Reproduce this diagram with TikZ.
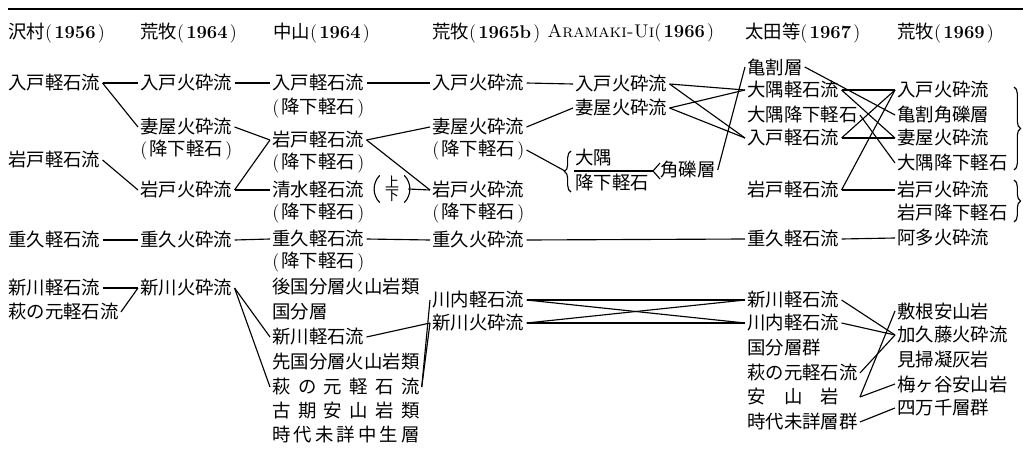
\documentclass[tikz,border=0pt]{standalone}
\usepackage{fontspec}
\newfontfamily\cjk{Noto Sans CJK JP}
\usetikzlibrary{decorations.pathreplacing}
\newcommand\lpar{\makebox[0.5em][l]{\rmfamily(}}
\newcommand\rpar{\makebox[0.5em][r]{\rmfamily)}}
\newcommand\yr[1]{\lpar{\rmfamily\bfseries #1}\rpar}
\newcommand\kouka{\lpar 降下軽石\rpar}
\tikzset{
  lbl/.style={anchor=west, inner xsep=1.5pt, inner ysep=0pt, font=\cjk\fontsize{13.8}{16}\selectfont},
  minilbl/.style={inner sep=0pt, font=\cjk\fontsize{10.5}{11}\selectfont},
  con/.style={line width=0.85pt},
  brc/.style={decorate, decoration={brace, amplitude=5pt}, line width=0.85pt},
}
\begin{document}
\begin{tikzpicture}[x=0.75pt,y=-0.75pt]
\useasboundingbox (0,0) rectangle (1023,453);
\draw[line width=1.5pt] (8,9) -- (1023,9);
% headers
\node[lbl] (h1) at (6,33) {沢村\yr{1956}};
\node[lbl] (h2) at (138,33) {荒牧\yr{1964}};
\node[lbl] (h3) at (271,33) {中山\yr{1964}};
\node[lbl] (h4) at (430,33) {荒牧\yr{1965b}};
\node[lbl] (h5) at (545,33) {{\rmfamily\textsc{Aramaki-Ui}}\yr{1966}};
\node[lbl] (h6) at (743,33) {太田等\yr{1967}};
\node[lbl] (h7) at (895,33) {荒牧\yr{1969}};
% column 1
\node[lbl] (a1) at (6,83) {入戸軽石流};
\node[lbl] (a2) at (6,160) {岩戸軽石流};
\node[lbl] (a3) at (6,240) {重久軽石流};
\node[lbl] (a4) at (6,288) {新川軽石流};
\node[lbl] (a5) at (6,312) {萩の元軽石流};
% column 2
\node[lbl] (b1) at (138,83) {入戸火砕流};
\node[lbl] (b2) at (138,127) {妻屋火砕流};
\node[lbl] (b2p) at (138,150) {\kouka};
\node[lbl] (b3) at (138,190) {岩戸火砕流};
\node[lbl] (b4) at (138,240) {重久火砕流};
\node[lbl] (b5) at (138,288) {新川火砕流};
% column 3
\node[lbl] (c1) at (270,83) {入戸軽石流};
\node[lbl] (c1p) at (270,108) {\kouka};
\node[lbl] (c2) at (270,140) {岩戸軽石流};
\node[lbl] (c2p) at (270,163) {\kouka};
\node[lbl] (c3) at (270,190) {清水軽石流};
\node[lbl] (c3p) at (270,213) {\kouka};
\node[lbl] (c4) at (270,239) {重久軽石流};
\node[lbl] (c4p) at (270,262) {\kouka};
\node[lbl] (c5) at (270,287) {後国分層火山岩類};
\node[lbl] (c6) at (270,312) {国分層};
\node[lbl] (c7) at (270,337) {新川軽石流};
\node[lbl] (c8) at (270,362) {先国分層火山岩類};
\node[lbl] (c9) at (270,387) {\makebox[8em]{萩\hfill の\hfill 元\hfill 軽\hfill 石\hfill 流}};
\node[lbl] (c10) at (270,411) {\makebox[8em]{古\hfill 期\hfill 安\hfill 山\hfill 岩\hfill 類}};
\node[lbl] (c11) at (270,435) {\makebox[8em]{時\hfill 代\hfill 未\hfill 詳\hfill 中\hfill 生\hfill 層}};
% (上下) mark
\node[minilbl] (udu) at (392,182) {上};
\node[minilbl] (udl) at (392,196) {下};
\node[inner sep=0pt, minimum width=18pt, minimum height=20pt] (ud) at (392,189) {};
% column 4
\node[lbl] (d1) at (430,83) {入戸火砕流};
\node[lbl] (d2) at (430,127) {妻屋火砕流};
\node[lbl] (d2p) at (430,150) {\kouka};
\node[lbl] (d3) at (430,190) {岩戸火砕流};
\node[lbl] (d3p) at (430,213) {\kouka};
\node[lbl] (d4) at (430,240) {重久火砕流};
\node[lbl] (d5) at (430,300) {川内軽石流};
\node[lbl] (d6) at (430,323) {新川火砕流};
% column 5
\node[lbl] (e1) at (573,84) {入戸火砕流};
\node[lbl] (e2) at (573,108) {妻屋火砕流};
\node[lbl] (e3) at (573,158) {大隅};
\node[lbl] (e4) at (573,183) {降下軽石};
\node[lbl] (e5) at (658,170) {角礫層};
\coordinate (bt) at (571,151);
\coordinate (bb) at (571,192);
\coordinate (btip) at (565,171);
\coordinate (bm) at (574,171);
\coordinate (kv) at (653,171);
% column 6
\node[lbl] (f1) at (745,67) {亀割層};
\node[lbl] (f2) at (745,90) {大隅軽石流};
\node[lbl] (f3) at (745,115) {大隅降下軽石};
\node[lbl] (f4) at (745,138) {入戸軽石流};
\node[lbl] (f5) at (745,190) {岩戸軽石流};
\node[lbl] (f6) at (745,239) {重久軽石流};
\node[lbl] (f7) at (745,300) {新川軽石流};
\node[lbl] (f8) at (745,323) {川内軽石流};
\node[lbl] (f9) at (745,348) {国分層群};
\node[lbl] (f10) at (745,373) {萩の元軽石流};
\node[lbl] (f11) at (745,397) {\makebox[6em][l]{\makebox[5em]{安\hfill 山\hfill 岩}}};
\node[lbl] (f12) at (745,422) {時代未詳層群};
% column 7
\node[lbl] (g1) at (895,90) {入戸火砕流};
\node[lbl] (g2) at (895,115) {亀割角礫層};
\node[lbl] (g3) at (895,138) {妻屋火砕流};
\node[lbl] (g4) at (895,163) {大隅降下軽石};
\node[lbl] (g5) at (895,190) {岩戸火砕流};
\node[lbl] (g6) at (895,213) {岩戸降下軽石};
\node[lbl] (g7) at (895,238) {阿多火砕流};
\node[lbl] (g8) at (895,311) {敷根安山岩};
\node[lbl] (g9) at (895,335) {加久藤火砕流};
\node[lbl] (g10) at (895,360) {見掃凝灰岩};
\node[lbl] (g11) at (895,384) {梅ヶ谷安山岩};
\node[lbl] (g12) at (895,408) {四万千層群};
% connectors col1-col2
\draw[con] (a1.east) -- (b1.west);
\draw[con] (a1.east) -- (b2.west);
\draw[con] (a2.east) -- (b3.west);
\draw[con] (a3.east) -- (b4.west);
\draw[con] (a4.east) -- (b5.west);
\draw[con] (a5.east) -- (b5.west);
% col2-col3
\draw[con] (b1.east) -- (c1.west);
\draw[con] (b2.east) -- (c2.west);
\draw[con] (b3.east) -- (c2.west);
\draw[con] (b3.east) -- (c3.west);
\draw[con] (b4.east) -- (c4.west);
\draw[con] (b5.east) -- (c7.west);
\draw[con] (b5.east) -- (c9.west);
% col3-col4
\draw[con] (c1.east) -- (d1.west);
\draw[con] (c2.east) -- (d2.west);
\draw[con] (c2.east) -- (d3.west);
\draw[con] (ud.north west) to[bend right=45] (ud.south west);
\draw[con] (ud.north east) to[bend left=45] (ud.south east);
\draw[con] ([xshift=3pt]ud.east) -- (d3.west);
\draw[con] (c4.east) -- (d4.west);
\draw[con] (c7.east) -- (d6.west);
\draw[con] (c9.east) -- (d5.west);
\draw[con] (c9.east) -- (d6.west);
% col4-col5
\draw[con] (d1.east) -- (e1.west);
\draw[con] (d2.east) -- (e2.west);
\draw[con] (d2p.east) -- (btip);
\draw[brc] (bb) -- (bt);
\draw[con] (bm) -- (kv);
\draw[con] (kv) ++(7,-8) -- (kv) -- ++(7,8);
% col4/5-col6
\draw[con] (d4.east) -- (f6.west);
\draw[con] (d5.east) -- (f7.west);
\draw[con] (d5.east) -- (f8.west);
\draw[con] (d6.east) -- (f7.west);
\draw[con] (d6.east) -- (f8.west);
\draw[con] (e1.east) -- (f2.west);
\draw[con] (e1.east) -- (f4.west);
\draw[con] (e2.east) -- (f2.west);
\draw[con] (e2.east) -- (f4.west);
\draw[con] (e5.east) -- (f1.west);
% col6-col7
\draw[con] (f1.east) -- (g2.west);
\draw[con] (f2.east) -- (g1.west);
\draw[con] (f2.east) -- (g3.west);
\draw[con] (f4.east) -- (g1.west);
\draw[con] (f4.east) -- (g3.west);
\draw[con] (f3.east) -- (g4.west);
\draw[con] (f5.east) -- (g1.west);
\draw[con] (f5.east) -- (g5.west);
\draw[con] (f6.east) -- (g7.west);
\draw[con] (f7.east) -- (g9.west);
\draw[con] (f8.east) -- (g9.west);
\draw[con] (f10.east) -- (g9.west);
\draw[con] (f11.east) -- (g8.west);
\draw[con] (f11.east) -- (g11.west);
\draw[con] (f12.east) -- (g12.west);
% right braces
\draw[brc] (1014,87) -- (1014,170);
\draw[brc] (1014,180) -- (1014,222);
\end{tikzpicture}
\end{document}
